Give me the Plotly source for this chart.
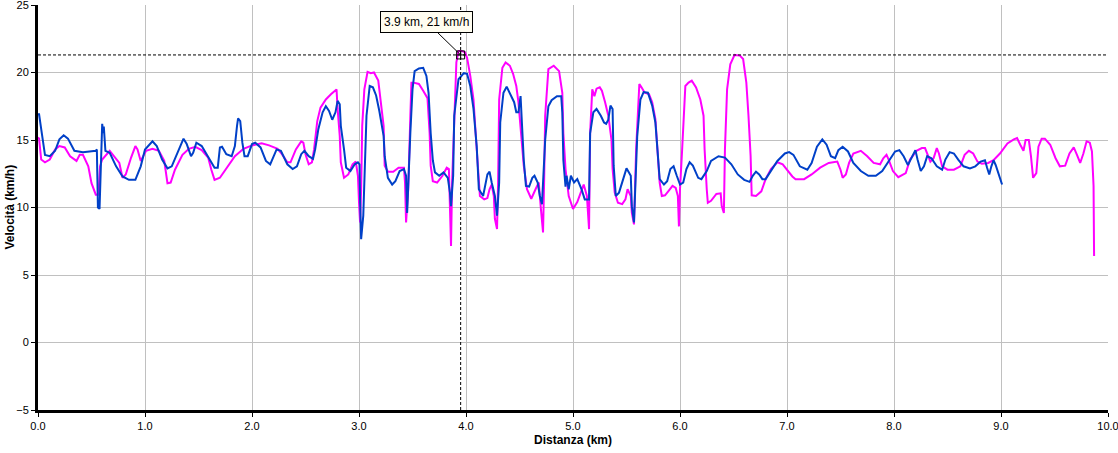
import plotly.graph_objects as go

# ---------------- data ----------------
magenta_km = [0.00, 0.01, 0.03, 0.065, 0.11, 0.16, 0.20, 0.25, 0.30, 0.36, 0.39, 0.42, 0.47, 0.50, 0.54, 0.565, 0.58, 0.60,
              0.67, 0.71, 0.76, 0.79, 0.82, 0.87, 0.91, 0.93, 0.96, 1.01, 1.07, 1.13, 1.18, 1.21, 1.24, 1.28, 1.35, 1.41,
              1.47, 1.53, 1.59, 1.62, 1.65, 1.70, 1.76, 1.84, 1.92, 2.00, 2.09, 2.16, 2.24, 2.28, 2.33, 2.36, 2.41, 2.46,
              2.48, 2.50, 2.53, 2.56, 2.58, 2.61, 2.64, 2.69, 2.74, 2.78, 2.79, 2.80, 2.82, 2.83, 2.86, 2.90, 2.94, 2.97,
              2.99, 3.00, 3.01, 3.02, 3.03, 3.05, 3.08, 3.11, 3.14, 3.18, 3.21, 3.23, 3.24, 3.27, 3.32, 3.37, 3.42, 3.43,
              3.44, 3.46, 3.48, 3.49, 3.51, 3.56, 3.60, 3.64, 3.66, 3.67, 3.69, 3.73, 3.78, 3.82, 3.84, 3.85, 3.86, 3.87,
              3.89, 3.91, 3.93, 3.96, 3.99, 4.01, 4.04, 4.07, 4.09, 4.12, 4.13, 4.17, 4.20, 4.22, 4.24, 4.26, 4.27, 4.29,
              4.30, 4.31, 4.34, 4.37, 4.41, 4.44, 4.47, 4.49, 4.52, 4.54, 4.57, 4.61, 4.65, 4.68, 4.70, 4.72, 4.73, 4.74,
              4.77, 4.82, 4.87, 4.90, 4.91, 4.93, 4.96, 5.00, 5.04, 5.07, 5.10, 5.13, 5.15, 5.16, 5.18, 5.20, 5.22, 5.25,
              5.27, 5.30, 5.33, 5.36, 5.37, 5.39, 5.42, 5.46, 5.49, 5.51, 5.54, 5.55, 5.57, 5.59, 5.62, 5.64, 5.67, 5.71,
              5.74, 5.77, 5.79, 5.81, 5.83, 5.86, 5.89, 5.93, 5.96, 5.98, 5.99, 6.00, 6.02, 6.04, 6.05, 6.08, 6.11, 6.15,
              6.19, 6.22, 6.23, 6.25, 6.26, 6.29, 6.34, 6.38, 6.39, 6.41, 6.42, 6.44, 6.47, 6.51, 6.56, 6.59, 6.62, 6.64,
              6.66, 6.67, 6.71, 6.76, 6.80, 6.85, 6.91, 6.96, 7.01, 7.05, 7.08, 7.16, 7.23, 7.31, 7.39, 7.47, 7.50, 7.52,
              7.55, 7.58, 7.62, 7.69, 7.75, 7.81, 7.87, 7.90, 7.93, 7.95, 7.99, 8.04, 8.11, 8.15, 8.21, 8.26, 8.29, 8.34,
              8.37, 8.40, 8.42, 8.45, 8.50, 8.56, 8.62, 8.66, 8.70, 8.74, 8.78, 8.82, 8.88, 8.93, 8.99, 9.06, 9.12, 9.15,
              9.18, 9.21, 9.23, 9.26, 9.28, 9.30, 9.33, 9.35, 9.38, 9.41, 9.46, 9.51, 9.55, 9.60, 9.64, 9.68, 9.71, 9.74,
              9.77, 9.80, 9.83, 9.85, 9.865, 9.87]
magenta_kmh = [15.2, 15.1, 13.55, 13.35, 13.55, 14.3, 14.55, 14.45, 13.8, 13.45, 13.9, 13.9, 13.05, 11.8, 10.95, 10.95, 13.05, 13.55,
               14.2, 13.8, 13.3, 12.2, 12.45, 13.7, 14.55, 14.3, 13.45, 14.2, 14.35, 14.2, 13.45, 11.8, 11.85, 12.8, 13.9, 14.35,
               14.5, 14.25, 13.7, 12.8, 12.05, 12.2, 12.85, 13.8, 14.35, 14.6, 14.75, 14.6, 14.35, 13.95, 13.35, 13.35, 14.3, 14.9,
               14.8, 13.95, 13.2, 13.35, 14.3, 16.4, 17.4, 18.0, 18.4, 18.65, 18.75, 17.3, 15.3, 13.35, 12.2, 12.45, 13.2, 13.4,
               12.35, 10.4, 8.9, 11.35, 16.05, 18.75, 20.05, 19.95, 20.0, 19.4, 17.55, 16.05, 13.1, 12.65, 12.65, 12.95, 12.95, 11.85,
               8.9, 11.35, 16.8, 19.25, 19.25, 19.15, 18.65, 18.1, 15.5, 13.1, 11.95, 11.85, 12.35, 12.95, 12.85, 9.4, 7.15, 11.85,
               16.8, 20.75, 21.6, 21.6, 21.5, 21.1, 19.75, 18.0, 15.5, 11.85, 10.85, 10.6, 10.7, 11.35, 11.7, 10.85, 9.15, 8.4,
               11.85, 18.0, 20.35, 20.75, 20.5, 19.9, 19.0, 17.8, 15.3, 13.1, 11.35, 10.65, 11.35, 11.85, 9.9, 8.15, 11.85, 16.8,
               20.25, 20.5, 20.1, 18.5, 15.5, 12.85, 10.85, 9.9, 10.4, 11.1, 11.7, 10.85, 8.4, 15.5, 18.75, 18.25, 18.8, 18.9,
               18.65, 17.8, 16.8, 15.0, 12.85, 11.1, 10.35, 10.25, 10.6, 11.35, 10.85, 9.6, 8.75, 14.3, 19.15, 18.9, 18.5, 18.4,
               17.8, 16.55, 14.55, 11.85, 10.85, 10.9, 11.2, 11.6, 11.45, 10.85, 8.6, 11.35, 14.3, 17.3, 19.0, 19.25, 19.4, 18.9,
               18.0, 16.8, 14.3, 11.35, 10.35, 10.5, 11.0, 11.05, 10.1, 9.6, 14.3, 18.75, 20.6, 21.3, 21.25, 21.0, 19.25, 16.8,
               13.8, 10.9, 10.85, 11.2, 12.1, 12.85, 13.35, 13.2, 12.7, 12.3, 12.1, 12.1, 12.45, 12.95, 13.3, 13.4, 12.8, 12.2,
               12.45, 13.3, 14.0, 14.2, 13.8, 13.3, 13.2, 13.65, 13.9, 13.55, 12.7, 12.25, 12.55, 13.55, 14.2, 14.4, 14.4, 13.4,
               13.65, 14.4, 14.0, 13.05, 12.8, 12.8, 13.05, 13.9, 14.2, 14.0, 13.4, 13.25, 13.3, 13.5, 14.0, 14.75, 15.05, 15.15,
               14.65, 14.2, 15.0, 15.0, 13.8, 12.2, 12.55, 14.5, 15.1, 15.1, 14.65, 13.65, 13.05, 13.1, 14.0, 14.45, 13.9, 13.3,
               14.0, 14.9, 14.8, 14.15, 11.6, 6.4]

blue_km = [0.00, 0.01, 0.03, 0.065, 0.11, 0.16, 0.20, 0.24, 0.28, 0.34, 0.42, 0.54, 0.55, 0.56, 0.575, 0.585, 0.60, 0.61,
           0.615, 0.63, 0.67, 0.73, 0.79, 0.85, 0.91, 0.96, 1.00, 1.07, 1.11, 1.16, 1.21, 1.25, 1.30, 1.36, 1.39, 1.43,
           1.45, 1.48, 1.53, 1.59, 1.65, 1.68, 1.70, 1.72, 1.76, 1.81, 1.84, 1.86, 1.87, 1.89, 1.91, 1.93, 1.96, 2.00,
           2.03, 2.08, 2.13, 2.17, 2.20, 2.23, 2.27, 2.33, 2.38, 2.42, 2.46, 2.49, 2.53, 2.57, 2.59, 2.62, 2.66, 2.69,
           2.72, 2.75, 2.78, 2.80, 2.82, 2.83, 2.86, 2.88, 2.92, 2.96, 2.99, 3.005, 3.01, 3.02, 3.04, 3.05, 3.07, 3.10,
           3.13, 3.16, 3.19, 3.23, 3.24, 3.27, 3.31, 3.34, 3.38, 3.42, 3.44, 3.45, 3.46, 3.48, 3.50, 3.52, 3.56, 3.60,
           3.63, 3.65, 3.67, 3.69, 3.71, 3.75, 3.79, 3.83, 3.85, 3.86, 3.88, 3.89, 3.93, 3.98, 4.01, 4.04, 4.07, 4.10,
           4.12, 4.16, 4.20, 4.22, 4.24, 4.27, 4.29, 4.31, 4.32, 4.35, 4.38, 4.41, 4.45, 4.47, 4.49, 4.51, 4.52, 4.54,
           4.56, 4.59, 4.62, 4.64, 4.67, 4.69, 4.71, 4.72, 4.74, 4.77, 4.80, 4.85, 4.89, 4.90, 4.91, 4.93, 4.94, 4.96,
           4.98, 5.01, 5.04, 5.08, 5.11, 5.15, 5.16, 5.19, 5.22, 5.26, 5.29, 5.31, 5.33, 5.35, 5.37, 5.38, 5.40, 5.43,
           5.47, 5.50, 5.54, 5.55, 5.57, 5.58, 5.60, 5.63, 5.66, 5.70, 5.74, 5.77, 5.79, 5.81, 5.85, 5.88, 5.91, 5.94,
           5.97, 6.00, 6.03, 6.06, 6.09, 6.12, 6.17, 6.20, 6.25, 6.29, 6.36, 6.42, 6.48, 6.54, 6.60, 6.65, 6.68, 6.71,
           6.74, 6.77, 6.80, 6.85, 6.91, 6.98, 7.02, 7.06, 7.12, 7.19, 7.23, 7.28, 7.33, 7.37, 7.41, 7.45, 7.48, 7.52,
           7.57, 7.62, 7.69, 7.76, 7.83, 7.89, 7.95, 8.01, 8.05, 8.09, 8.13, 8.17, 8.20, 8.22, 8.25, 8.28, 8.31, 8.35,
           8.40, 8.45, 8.48, 8.52, 8.56, 8.60, 8.65, 8.71, 8.76, 8.81, 8.85, 8.87, 8.89, 8.91, 8.93, 8.95, 8.98, 9.01]
blue_kmh = [16.9, 16.9, 15.8, 13.9, 13.8, 14.2, 15.05, 15.35, 15.1, 14.2, 14.1, 14.2, 14.3, 10.0, 9.9, 12.5, 16.2, 15.5,
            16.0, 14.2, 14.05, 13.05, 12.3, 12.05, 12.05, 13.05, 14.3, 14.9, 14.55, 13.55, 12.9, 13.05, 14.05, 15.1, 14.7, 13.8,
            14.05, 14.8, 14.55, 13.8, 12.95, 12.95, 14.45, 14.5, 13.95, 13.8, 14.55, 16.05, 16.6, 16.4, 14.8, 13.8, 13.8, 14.7,
            14.8, 14.45, 13.45, 13.2, 13.8, 14.3, 14.2, 13.2, 12.85, 13.05, 13.95, 14.2, 13.8, 13.6, 14.3, 15.8, 17.05, 17.5,
            17.15, 16.5, 17.05, 17.9, 17.65, 16.05, 14.3, 12.95, 12.7, 13.2, 13.35, 13.2, 10.6, 7.65, 9.4, 11.85, 16.8, 19.0,
            18.9, 18.3, 17.15, 15.3, 13.8, 12.2, 11.7, 11.95, 12.7, 12.85, 12.35, 9.6, 11.85, 15.55, 18.75, 20.1, 20.3, 20.35,
            19.75, 18.5, 15.5, 13.5, 12.6, 12.35, 12.6, 12.2, 11.1, 10.1, 12.35, 16.8, 19.5, 19.95, 19.9, 19.0, 17.3, 14.55,
            11.35, 10.85, 12.45, 12.65, 11.85, 10.85, 9.4, 11.85, 16.3, 18.5, 18.95, 18.5, 17.8, 17.05, 17.05, 18.25, 16.3, 13.5,
            11.6, 11.55, 12.2, 12.35, 11.85, 10.85, 10.25, 11.6, 15.0, 17.5, 17.95, 18.25, 18.25, 17.05, 13.5, 11.55, 12.35, 11.35,
            12.35, 11.85, 12.1, 11.35, 10.6, 10.6, 15.5, 17.05, 17.3, 16.8, 16.3, 16.2, 16.5, 17.55, 17.3, 13.1, 10.85, 11.1,
            12.1, 12.9, 12.35, 10.1, 8.9, 11.35, 15.25, 18.0, 18.55, 18.5, 17.55, 16.3, 14.3, 12.1, 11.7, 11.95, 12.85, 13.05,
            12.35, 11.7, 11.85, 12.85, 13.35, 13.1, 12.2, 12.1, 12.7, 13.45, 13.8, 13.7, 13.2, 12.45, 12.05, 11.9, 12.35, 12.65,
            12.45, 12.1, 12.1, 12.7, 13.45, 14.0, 14.1, 13.9, 13.05, 12.8, 13.3, 14.5, 15.05, 14.65, 13.8, 13.65, 14.25, 14.5,
            14.15, 13.3, 12.7, 12.35, 12.35, 12.7, 13.4, 14.15, 14.25, 13.8, 13.15, 13.8, 14.25, 13.55, 12.7, 13.05, 13.8, 13.65,
            13.05, 12.8, 13.55, 14.1, 14.0, 13.55, 13.05, 12.9, 13.05, 13.4, 13.5, 12.95, 12.45, 13.05, 13.5, 13.15, 12.45, 11.7]

x_ticks = [0, 1, 2, 3, 4, 5, 6, 7, 8, 9, 10]
y_ticks = [-5, 0, 5, 10, 15, 20, 25]
x_title = "Distanza (km)"
y_title = "Velocità (km/h)"

cursor_km = 3.95
cursor_kmh = 21.3
cursor_label = "3.9 km, 21 km/h"

FONT = "Liberation Sans"

# ---------------- figure ----------------
fig = go.Figure()

fig.add_trace(go.Scatter(x=magenta_km, y=magenta_kmh, mode="lines",
                         line=dict(color="#FF00FF", width=2), hoverinfo="skip", showlegend=False))
fig.add_trace(go.Scatter(x=blue_km, y=blue_kmh, mode="lines",
                         line=dict(color="#0040C8", width=2), hoverinfo="skip", showlegend=False))

# crosshair
fig.add_shape(type="line", xref="paper", yref="y", x0=0, x1=1, y0=cursor_kmh, y1=cursor_kmh,
              line=dict(color="black", width=1, dash="3px,2px"))
fig.add_shape(type="line", xref="x", yref="paper", x0=cursor_km, x1=cursor_km, y0=0, y1=1,
              line=dict(color="black", width=1, dash="3px,2px"))
fig.add_trace(go.Scatter(x=[cursor_km], y=[cursor_kmh], mode="markers",
                         marker=dict(symbol="square-cross-open", size=8, color="black", line=dict(width=1)),
                         hoverinfo="skip", showlegend=False))
fig.add_annotation(x=cursor_km, y=cursor_kmh, text=cursor_label, showarrow=True, arrowhead=0,
                   arrowwidth=1, arrowcolor="black", ax=-34, ay=-33,
                   bgcolor="#FFFDF0", bordercolor="black", borderwidth=1, borderpad=3,
                   font=dict(family=FONT, size=12, color="black"))

# axis titles
fig.add_annotation(text="<b>" + x_title + "</b>", xref="paper", yref="paper", x=0.5, y=0, yshift=-30,
                   showarrow=False, font=dict(family=FONT, size=12, color="black"),
                   xanchor="center", yanchor="middle")
fig.add_annotation(text="<b>" + y_title + "</b>", xref="paper", yref="paper", x=0, y=0.5, xshift=-29,
                   textangle=-90, showarrow=False,
                   font=dict(family=FONT, size=12, color="black"),
                   xanchor="center", yanchor="middle")

common = dict(showgrid=True, gridcolor="#C0C0C0", gridwidth=1,
              showline=True, linecolor="black", linewidth=3, zeroline=False,
              ticks="outside", ticklen=4, tickcolor="black", tickwidth=1,
              automargin=False, ticklabeloverflow="allow",
              tickfont=dict(family=FONT, size=11, color="black"))
fig.update_xaxes(range=[0, 10], tickvals=x_ticks, ticktext=[f"{v:.1f}" for v in x_ticks], **common)
fig.update_yaxes(range=[-5, 25], tickvals=y_ticks, **common)

fig.update_layout(width=1118, height=453, margin=dict(l=38, r=10, t=5, b=43, autoexpand=False),
                  paper_bgcolor="white", plot_bgcolor="white", showlegend=False, hovermode=False)

fig.write_html("out.html", config={"displayModeBar": False, "staticPlot": True},
               post_script="document.body.style.margin='0px';document.body.style.padding='0px';")
